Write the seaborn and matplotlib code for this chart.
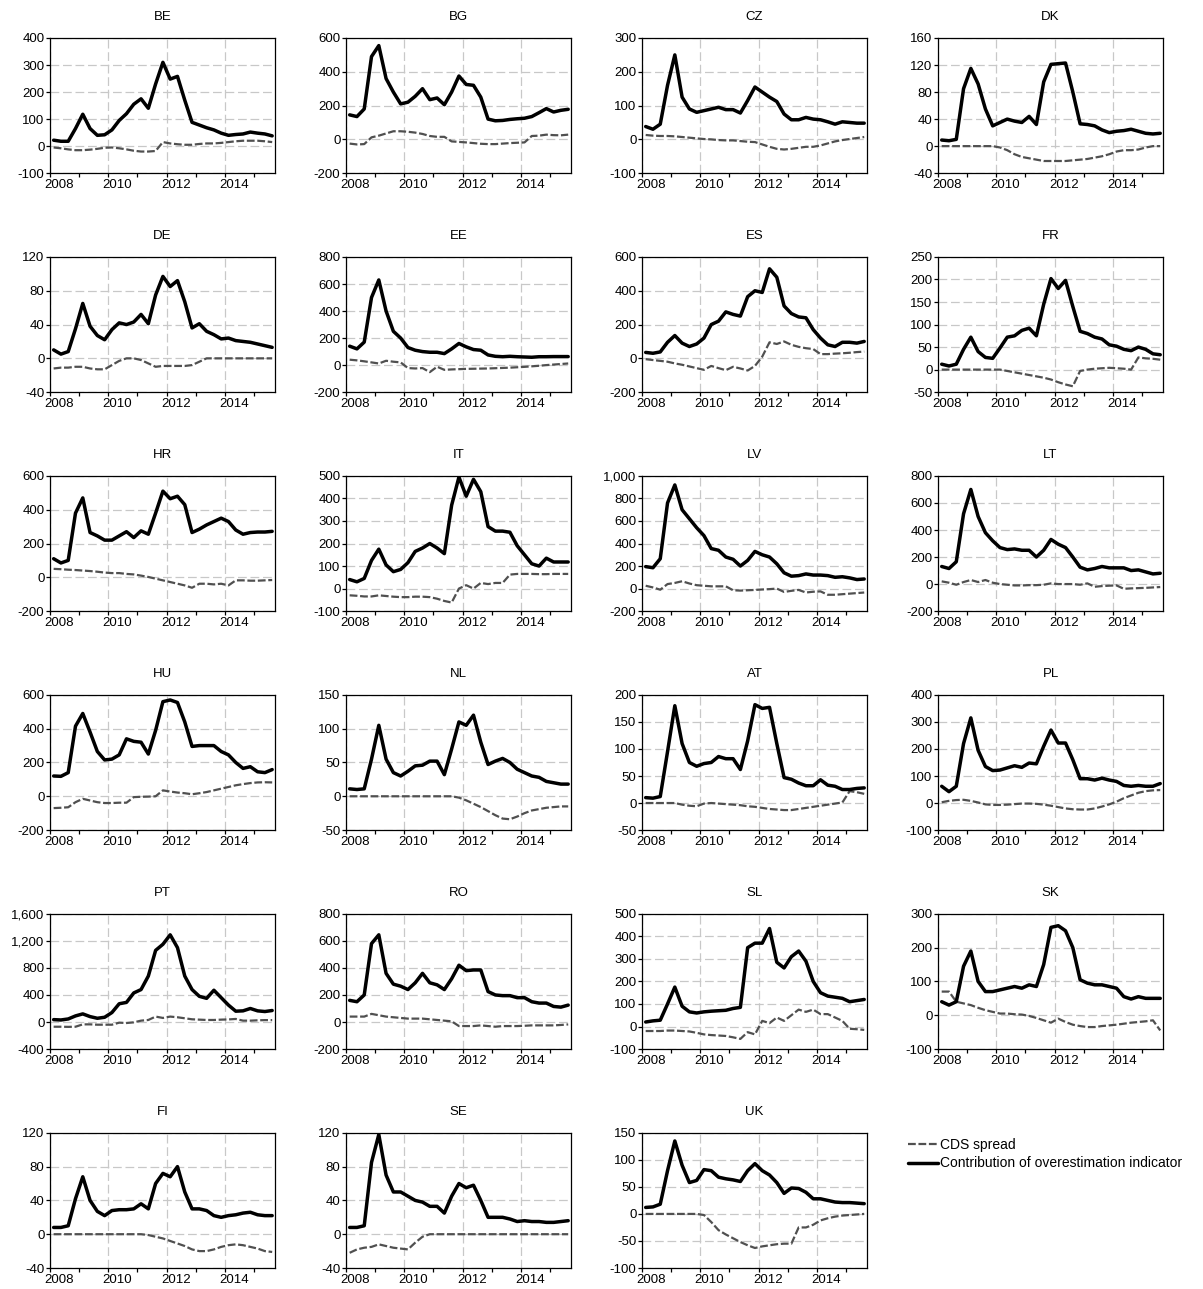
import matplotlib
matplotlib.use("Agg")
import numpy as np
import pandas as pd
import matplotlib.pyplot as plt
import matplotlib.transforms as mtransforms
from matplotlib.ticker import FuncFormatter, MultipleLocator
from matplotlib.lines import Line2D
import seaborn as sns

sns.set_theme(style="ticks")
plt.rcParams.update({
    'font.family': ['Liberation Sans', 'DejaVu Sans'],
    'font.size': 9,
    'axes.linewidth': 0.9,
    'text.color': 'black',
    'axes.titlecolor': 'black',
})

# Quarterly observations, 2008Q1 .. 2015Q3
QUARTERS = pd.period_range("2008Q1", "2015Q3", freq="Q")

BE_CONTRIB = [22, 18, 18, 65, 118, 65, 40, 42, 60, 95, 120, 155, 175, 140, 230, 310, 248, 258, 170, 88, 78, 68, 60, 48, 40, 43, 45, 52, 48, 45, 38]
BE_CDS = [-5, -8, -12, -15, -15, -13, -10, -6, -5, -8, -12, -17, -20, -20, -18, 15, 10, 7, 5, 5, 8, 10, 10, 12, 15, 18, 20, 20, 20, 18, 15]
BG_CONTRIB = [145, 135, 180, 490, 555, 360, 280, 210, 220, 255, 300, 235, 245, 205, 280, 375, 325, 320, 250, 120, 110, 112, 118, 122, 125, 135, 158, 182, 162, 172, 178]
BG_CDS = [-25, -30, -28, 12, 22, 35, 48, 48, 45, 40, 32, 20, 15, 15, -12, -15, -18, -22, -26, -28, -28, -25, -22, -20, -18, 20, 22, 28, 25, 24, 28]
CZ_CONTRIB = [38, 30, 45, 160, 250, 125, 90, 80, 85, 90, 95, 88, 88, 78, 115, 155, 140, 125, 112, 75, 58, 58, 65, 60, 58, 52, 45, 52, 50, 48, 48]
CZ_CDS = [13, 11, 10, 10, 9, 7, 5, 3, 1, 0, -2, -3, -3, -5, -7, -8, -15, -22, -28, -30, -28, -25, -22, -22, -18, -12, -6, -2, 1, 4, 7]
DK_CONTRIB = [9, 8, 10, 85, 115, 92, 55, 30, 35, 40, 37, 35, 44, 32, 95, 121, 122, 123, 80, 33, 32, 30, 24, 20, 22, 23, 25, 22, 19, 18, 19]
DK_CDS = [0, 0, 0, 0, 0, 0, 0, 0, -2, -6, -12, -16, -18, -20, -22, -22, -22, -22, -21, -20, -19, -17, -15, -12, -8, -6, -6, -5, -2, 0, 0]
DE_CONTRIB = [10, 5, 8, 35, 65, 38, 27, 22, 34, 42, 40, 43, 52, 41, 75, 97, 85, 92, 67, 36, 41, 32, 28, 23, 24, 21, 20, 19, 17, 15, 13]
DE_CDS = [-12, -11, -11, -10, -10, -12, -13, -13, -8, -3, 0, 0, -2, -6, -10, -9, -9, -9, -9, -8, -4, 0, 0, 0, 0, 0, 0, 0, 0, 0, 0]
EE_CONTRIB = [140, 120, 170, 500, 630, 400, 250, 200, 130, 110, 100, 95, 95, 85, 120, 160, 135, 115, 110, 75, 65, 62, 65, 62, 60, 58, 62, 62, 63, 63, 63]
EE_CDS = [40, 35, 28, 20, 12, 32, 25, 20, -22, -25, -22, -52, -12, -35, -32, -30, -28, -27, -26, -25, -23, -21, -19, -16, -13, -9, -5, 0, 4, 8, 12]
ES_CONTRIB = [35, 30, 38, 95, 135, 90, 70, 85, 120, 200, 220, 275, 260, 250, 365, 400, 390, 530, 480, 310, 265, 245, 240, 170, 120, 80, 70, 95, 95, 90, 100]
ES_CDS = [-5, -10, -15, -20, -30, -38, -48, -58, -68, -45, -58, -70, -50, -60, -72, -45, 10, 95, 85, 100, 80, 68, 60, 55, 25, 25, 28, 30, 33, 37, 40]
FR_CONTRIB = [12, 8, 12, 45, 72, 40, 27, 25, 48, 72, 75, 87, 92, 75, 145, 202, 180, 198, 140, 85, 80, 72, 68, 55, 52, 45, 42, 50, 45, 35, 33]
FR_CDS = [0, 0, 0, 0, 0, 0, 0, 0, 0, -3, -6, -9, -12, -15, -18, -22, -28, -33, -37, -3, 0, 2, 3, 4, 3, 2, 0, 27, 25, 24, 22]
HR_CONTRIB = [110, 85, 100, 380, 470, 265, 245, 220, 220, 245, 270, 235, 275, 255, 380, 510, 465, 480, 430, 265, 285, 310, 330, 350, 330, 280, 255, 265, 268, 268, 272]
HR_CDS = [50, 48, 45, 43, 40, 37, 33, 28, 25, 25, 20, 17, 10, 2, -8, -18, -28, -38, -48, -62, -38, -38, -42, -38, -48, -18, -18, -20, -20, -18, -16]
IT_CONTRIB = [40, 30, 45, 125, 175, 105, 75, 85, 115, 165, 180, 200, 180, 155, 370, 495, 410, 485, 430, 275, 255, 255, 250, 190, 150, 110, 100, 135, 118, 118, 118]
IT_CDS = [-30, -32, -35, -35, -30, -33, -36, -38, -38, -36, -36, -38, -45, -55, -62, 0, 15, 0, 25, 20, 25, 25, 62, 65, 65, 65, 64, 64, 65, 65, 65]
LV_CONTRIB = [195, 185, 265, 760, 920, 700, 620, 540, 470, 355, 340, 280, 260, 200, 250, 330, 300, 280, 220, 140, 110, 115, 130, 120, 120, 115, 100, 105, 95, 80, 85]
LV_CDS = [25, 10, -10, 40, 50, 65, 45, 30, 25, 20, 20, 20, -15, -18, -15, -12, -8, -5, 0, -30, -20, -12, -35, -28, -25, -55, -55, -50, -45, -40, -35]
LT_CONTRIB = [130, 115, 165, 520, 700, 500, 380, 320, 270, 255, 260, 250, 250, 200, 250, 330, 295, 270, 200, 125, 105, 115, 130, 120, 120, 120, 100, 105, 90, 75, 80]
LT_CDS = [20, 10, -5, 15, 30, 15, 30, 10, 0, -5, -10, -10, -8, -8, -5, 5, 0, 0, 0, -5, 5, -20, -15, -12, -10, -35, -32, -30, -28, -25, -22]
HU_CONTRIB = [120, 118, 140, 415, 490, 380, 265, 215, 220, 245, 340, 325, 320, 250, 390, 560, 570, 555, 440, 295, 300, 300, 300, 265, 245, 200, 165, 175, 145, 140, 158]
HU_CDS = [-70, -68, -65, -35, -15, -25, -35, -40, -40, -38, -38, -5, -3, -2, 0, 35, 28, 22, 18, 12, 18, 25, 35, 45, 55, 65, 72, 78, 82, 83, 82]
NL_CONTRIB = [11, 10, 11, 55, 105, 55, 35, 30, 37, 45, 46, 52, 52, 32, 70, 110, 105, 120, 80, 47, 52, 56, 50, 40, 35, 30, 28, 22, 20, 18, 18]
NL_CDS = [0, 0, 0, 0, 0, 0, 0, 0, 0, 0, 0, 0, 0, 0, 0, -2, -6, -11, -16, -22, -28, -33, -34, -30, -25, -21, -19, -17, -16, -15, -15]
AT_CONTRIB = [10, 9, 12, 95, 180, 110, 75, 68, 73, 75, 86, 82, 82, 62, 115, 182, 175, 177, 110, 47, 44, 37, 32, 32, 43, 33, 31, 25, 25, 27, 28]
AT_CDS = [0, 0, 0, 0, 0, -3, -5, -6, -1, 0, -1, -2, -3, -4, -6, -7, -9, -11, -12, -13, -13, -11, -9, -7, -5, -3, -1, 1, 22, 20, 17]
PL_CONTRIB = [62, 42, 62, 220, 315, 195, 135, 120, 122, 130, 138, 132, 148, 145, 210, 270, 222, 222, 160, 90, 90, 85, 92, 85, 80, 65, 62, 65, 62, 62, 72]
PL_CDS = [3, 8, 11, 12, 8, 2, -5, -7, -7, -6, -4, -2, -2, -3, -6, -10, -15, -20, -23, -24, -24, -20, -13, -5, 5, 18, 28, 38, 44, 47, 48]
PT_CONTRIB = [35, 30, 45, 90, 120, 80, 55, 70, 140, 270, 290, 430, 480, 680, 1060, 1150, 1290, 1100, 680, 480, 380, 350, 470, 360, 250, 160, 165, 200, 165, 155, 170]
PT_CDS = [-70, -70, -72, -70, -35, -35, -40, -40, -40, -10, -15, -5, 20, 30, 80, 60, 80, 70, 55, 40, 35, 30, 30, 35, 38, 45, 20, 20, 25, 28, 28]
RO_CONTRIB = [160, 150, 200, 580, 645, 360, 280, 265, 240, 290, 360, 290, 275, 240, 320, 420, 380, 385, 385, 225, 200, 195, 195, 180, 180, 150, 140, 140, 115, 110, 125]
RO_CDS = [40, 40, 40, 60, 50, 40, 35, 30, 25, 25, 25, 20, 15, 10, 5, -30, -30, -30, -25, -30, -35, -30, -30, -30, -28, -25, -25, -25, -25, -22, -18]
SL_CONTRIB = [20, 25, 28, 100, 175, 90, 65, 60, 65, 68, 70, 72, 80, 85, 350, 370, 370, 435, 285, 260, 310, 335, 290, 200, 150, 135, 130, 125, 110, 115, 120]
SL_CDS = [-20, -20, -20, -18, -18, -20, -22, -28, -35, -38, -40, -42, -48, -55, -25, -35, 25, 15, 40, 25, 50, 75, 65, 75, 55, 55, 40, 25, -10, -12, -15]
SK_CONTRIB = [40, 30, 40, 145, 190, 100, 70, 70, 75, 80, 85, 80, 90, 85, 150, 260, 265, 250, 200, 105, 95, 90, 90, 85, 80, 55, 48, 55, 50, 50, 50]
SK_CDS = [70, 70, 40, 35, 30, 22, 15, 10, 5, 5, 3, 2, -2, -8, -15, -22, -10, -20, -28, -32, -35, -35, -32, -30, -28, -25, -22, -20, -18, -15, -45]
FI_CONTRIB = [8, 8, 10, 42, 68, 40, 27, 22, 28, 29, 29, 30, 36, 30, 60, 72, 68, 80, 50, 30, 30, 28, 22, 20, 22, 23, 25, 26, 23, 22, 22]
FI_CDS = [0, 0, 0, 0, 0, 0, 0, 0, 0, 0, 0, 0, 0, -1, -3, -5, -8, -11, -14, -18, -20, -20, -18, -15, -13, -12, -13, -15, -17, -20, -21]
SE_CONTRIB = [8, 8, 10, 85, 118, 70, 50, 50, 45, 40, 38, 33, 33, 25, 45, 60, 55, 58, 40, 20, 20, 20, 18, 15, 16, 15, 15, 14, 14, 15, 16]
SE_CDS = [-22, -18, -16, -15, -12, -14, -16, -17, -18, -10, -3, 0, 0, 0, 0, 0, 0, 0, 0, 0, 0, 0, 0, 0, 0, 0, 0, 0, 0, 0, 0]
UK_CONTRIB = [12, 13, 18, 80, 135, 90, 58, 62, 82, 80, 68, 65, 63, 60, 80, 93, 80, 72, 58, 38, 48, 47, 40, 28, 28, 25, 22, 21, 21, 20, 19]
UK_CDS = [0, 0, 0, 0, 0, 0, 0, 0, -2, -15, -30, -38, -45, -52, -58, -63, -60, -58, -56, -55, -55, -25, -25, -20, -12, -8, -5, -3, -2, -1, 0]

# country, contribution, cds, (ymin, ymax, step)
PANELS = [
    ("BE", BE_CONTRIB, BE_CDS, (-100, 400, 100)),
    ("BG", BG_CONTRIB, BG_CDS, (-200, 600, 200)),
    ("CZ", CZ_CONTRIB, CZ_CDS, (-100, 300, 100)),
    ("DK", DK_CONTRIB, DK_CDS, (-40, 160, 40)),
    ("DE", DE_CONTRIB, DE_CDS, (-40, 120, 40)),
    ("EE", EE_CONTRIB, EE_CDS, (-200, 800, 200)),
    ("ES", ES_CONTRIB, ES_CDS, (-200, 600, 200)),
    ("FR", FR_CONTRIB, FR_CDS, (-50, 250, 50)),
    ("HR", HR_CONTRIB, HR_CDS, (-200, 600, 200)),
    ("IT", IT_CONTRIB, IT_CDS, (-100, 500, 100)),
    ("LV", LV_CONTRIB, LV_CDS, (-200, 1000, 200)),
    ("LT", LT_CONTRIB, LT_CDS, (-200, 800, 200)),
    ("HU", HU_CONTRIB, HU_CDS, (-200, 600, 200)),
    ("NL", NL_CONTRIB, NL_CDS, (-50, 150, 50)),
    ("AT", AT_CONTRIB, AT_CDS, (-50, 200, 50)),
    ("PL", PL_CONTRIB, PL_CDS, (-100, 400, 100)),
    ("PT", PT_CONTRIB, PT_CDS, (-400, 1600, 400)),
    ("RO", RO_CONTRIB, RO_CDS, (-200, 800, 200)),
    ("SL", SL_CONTRIB, SL_CDS, (-100, 500, 100)),
    ("SK", SK_CONTRIB, SK_CDS, (-100, 300, 100)),
    ("FI", FI_CONTRIB, FI_CDS, (-40, 120, 40)),
    ("SE", SE_CONTRIB, SE_CDS, (-40, 120, 40)),
    ("UK", UK_CONTRIB, UK_CDS, (-100, 150, 50)),
]

# decimal-year position of each quarter (mid-point)
x_years = np.array([p.year + (p.quarter - 1) / 4 + 0.125 for p in QUARTERS])

CDS_STYLE = dict(color="#505050", lw=1.6, linestyle=(0, (3.5, 1.2)))
CONTRIB_STYLE = dict(color="black", lw=2.5)

fig, axes = plt.subplots(6, 4, figsize=(12.03, 12.89), dpi=100)
fig.subplots_adjust(left=50 / 1203, right=1163 / 1203, top=1 - 38 / 1289,
                    bottom=1 - 1268 / 1289, wspace=0.316, hspace=0.62)

thousands = FuncFormatter(lambda v, pos: f"{v:,.0f}")
grid_kw = dict(color="#c8c8c8", lw=0.9, linestyle=(0, (7, 3)))

for ax, (name, contrib, cds, (ymin, ymax, step)) in zip(axes.flat, PANELS):
    df = pd.DataFrame({"year": x_years, "CDS spread": cds,
                       "Contribution": contrib})
    sns.lineplot(data=df, x="year", y="CDS spread", ax=ax, **CDS_STYLE)
    sns.lineplot(data=df, x="year", y="Contribution", ax=ax, **CONTRIB_STYLE)

    ax.set_xlim(2008, 2015.72)
    ax.set_ylim(ymin, ymax)
    ax.yaxis.set_major_locator(MultipleLocator(step))
    ax.yaxis.set_major_formatter(thousands)
    ax.xaxis.set_major_locator(MultipleLocator(2))
    ax.xaxis.set_minor_locator(MultipleLocator(1))
    ax.xaxis.set_major_formatter(FuncFormatter(lambda v, pos: f"{v:.0f}"))
    ax.set_xlabel("")
    ax.set_ylabel("")
    ax.set_title(name, fontsize=9.5, pad=13, color="black")

    ax.grid(True, axis="y", **grid_kw)
    ax.grid(True, axis="x", which="major", **grid_kw)
    ax.set_axisbelow(True)

    ax.tick_params(axis="both", which="both", direction="out", length=3,
                   width=0.9, colors="black", labelsize=9.5, pad=1)
    # year labels start just left of their tick
    offset = mtransforms.ScaledTranslation(-4 / 72, 0, fig.dpi_scale_trans)
    for lbl in ax.get_xticklabels():
        lbl.set_horizontalalignment("left")
        lbl.set_transform(lbl.get_transform() + offset)
    for sp in ax.spines.values():
        sp.set_visible(True)
        sp.set_color("black")

# the last cell holds the legend
leg_ax = axes.flat[-1]
leg_ax.axis("off")
handles = [Line2D([], [], **CDS_STYLE), Line2D([], [], **CONTRIB_STYLE)]
fig.legend(handles, ["CDS spread", "Contribution of overestimation indicator"],
           loc="upper left", bbox_to_anchor=(902 / 1203, 1 - 1132 / 1289),
           frameon=False, fontsize=10, handlelength=2.2, handletextpad=0.1,
           labelspacing=0.35, borderaxespad=0)

fig.savefig("out.png", dpi=100)
